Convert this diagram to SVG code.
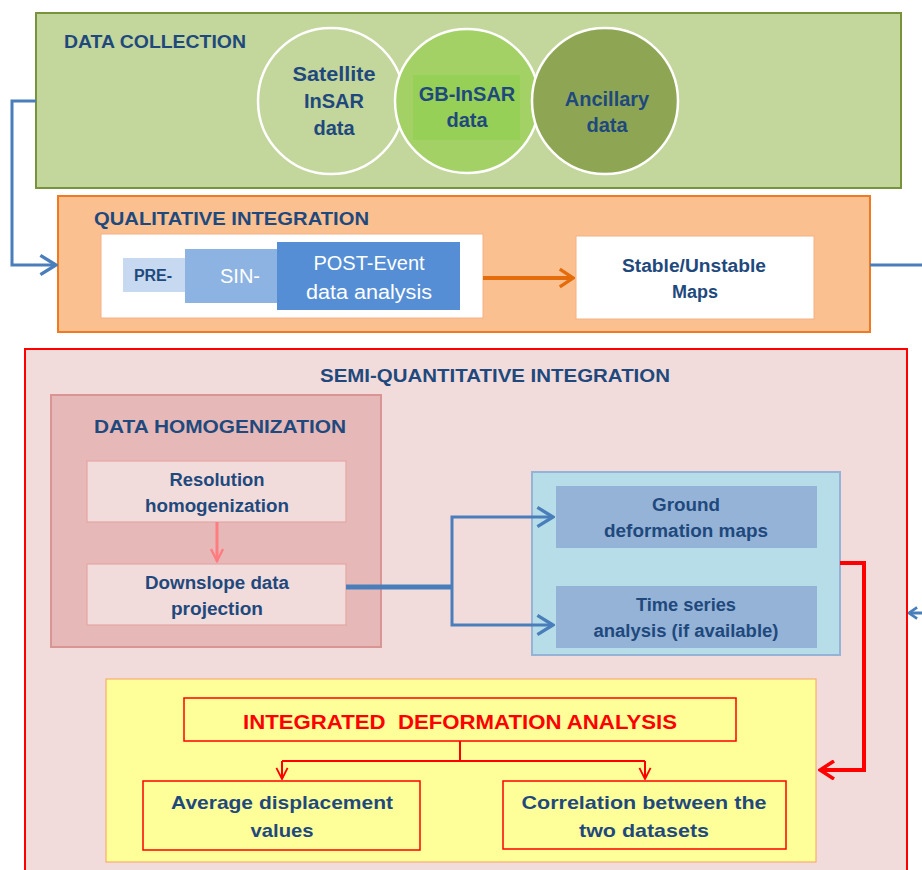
<svg xmlns="http://www.w3.org/2000/svg" width="922" height="870" viewBox="0 0 922 870">
<defs>
<style>
text{font-family:"Liberation Sans",Arial,sans-serif;font-weight:bold;fill:#1f497d;}
.t{font-size:19px;}
.c{text-anchor:middle;font-size:18px;}
.big{text-anchor:middle;font-size:20px;}
.w{fill:#ffffff;font-weight:normal;font-size:20px;text-anchor:middle;}
.blue{fill:none;stroke:#4a7ebb;stroke-width:3;}
.red{fill:none;stroke:#ff0000;}
</style>
<marker id="ab" viewBox="0 0 10 10" refX="9" refY="5" markerWidth="8" markerHeight="8" orient="auto" markerUnits="strokeWidth"><path d="M2.5,1 L9,5 L2.5,9" fill="none" stroke="#4a7ebb" stroke-width="1.4"/></marker>
<marker id="abs" viewBox="0 0 10 10" refX="9" refY="5" markerWidth="4.5" markerHeight="4.5" orient="auto" markerUnits="strokeWidth"><path d="M3,0.8 L9,5 L3,9.2" fill="none" stroke="#4a7ebb" stroke-width="2"/></marker>
<marker id="ao" viewBox="0 0 10 10" refX="9" refY="5" markerWidth="5.5" markerHeight="5.5" orient="auto" markerUnits="strokeWidth"><path d="M3,1 L9,5 L3,9" fill="none" stroke="#e46c0a" stroke-width="1.5"/></marker>
<marker id="as" viewBox="0 0 10 10" refX="9" refY="5" markerWidth="5" markerHeight="5" orient="auto" markerUnits="strokeWidth"><path d="M1,1 L9,5 L1,9" fill="none" stroke="#ff7c80" stroke-width="1.6"/></marker>
<marker id="ar" viewBox="0 0 10 10" refX="9" refY="5" markerWidth="5" markerHeight="5" orient="auto" markerUnits="strokeWidth"><path d="M2,0.5 L9,5 L2,9.5" fill="none" stroke="#ff0000" stroke-width="1.8"/></marker>
<marker id="ar2" viewBox="0 0 10 10" refX="9" refY="5" markerWidth="7" markerHeight="7" orient="auto" markerUnits="strokeWidth"><path d="M1,1 L9,5 L1,9" fill="none" stroke="#ff0000" stroke-width="1.3"/></marker>
</defs>

<g id="data-collection">
<rect x="36" y="13" width="865" height="175" fill="#c3d69b" stroke="#77933c" stroke-width="2"/>
<text class="t" x="64" y="48" textLength="182" lengthAdjust="spacingAndGlyphs">DATA COLLECTION</text>
</g>
<g id="satellite">
<circle cx="331" cy="101" r="73" fill="#c3d69b" stroke="#ffffff" stroke-width="2.5"/>
<text class="big" x="334" y="81" textLength="83" lengthAdjust="spacingAndGlyphs">Satellite</text>
<text class="big" x="334" y="108">InSAR</text>
<text class="big" x="334" y="135">data</text>
</g>
<g id="gb-insar">
<circle cx="467" cy="101" r="72" fill="#a4d165" stroke="#ffffff" stroke-width="2.5"/>
<rect x="413" y="75" width="107" height="65" fill="#92d050" opacity="0.7"/>
<text class="big" x="467" y="101">GB-InSAR</text>
<text class="big" x="467" y="127">data</text>
</g>
<g id="ancillary">
<circle cx="605" cy="101" r="73" fill="#8ea654" stroke="#ffffff" stroke-width="2.5"/>
<text class="big" x="607" y="106">Ancillary</text>
<text class="big" x="607" y="132">data</text>
</g>

<g id="qualitative">
<rect x="58" y="196" width="812" height="136" fill="#fac090" stroke="#f07a22" stroke-width="2"/>
<text class="t" x="94" y="225" textLength="275" lengthAdjust="spacingAndGlyphs">QUALITATIVE INTEGRATION</text>
</g>
<g id="event-analysis">
<rect x="101" y="234" width="382" height="84" fill="#ffffff" stroke="#f4b183" stroke-width="1"/>
<rect x="123" y="258" width="62" height="34" fill="#c6d9f1"/>
<rect x="185" y="249" width="93" height="54" fill="#8db3e2"/>
<rect x="277" y="242" width="183" height="68" fill="#558ed5"/>
<text x="153" y="281" style="font-size:16px;text-anchor:middle">PRE-</text>
<text class="w" x="240" y="283">SIN-</text>
<text class="w" x="369" y="270">POST-Event</text>
<text class="w" x="369" y="299" textLength="126" lengthAdjust="spacingAndGlyphs">data analysis</text>
</g>
<g id="stable-maps">
<rect x="576" y="236" width="238" height="83" fill="#ffffff" stroke="#f4b183" stroke-width="1"/>
<text class="c" x="694" y="272" textLength="144" lengthAdjust="spacingAndGlyphs">Stable/Unstable</text>
<text class="c" x="695" y="298">Maps</text>
</g>

<g id="semi-quantitative">
<rect x="25" y="349" width="882" height="530" fill="#f2dcdb" stroke="#ff0000" stroke-width="2"/>
<text class="t" x="495" y="382" style="text-anchor:middle" textLength="350" lengthAdjust="spacingAndGlyphs">SEMI-QUANTITATIVE INTEGRATION</text>
</g>
<g id="data-homogenization">
<rect x="51" y="395" width="330" height="252" fill="#e6b9b8" stroke="#d99594" stroke-width="2"/>
<text class="t" x="220" y="433" style="text-anchor:middle" textLength="252" lengthAdjust="spacingAndGlyphs">DATA HOMOGENIZATION</text>
</g>
<g id="resolution">
<rect x="87" y="461" width="259" height="61" fill="#f2dcdb" stroke="#e6a6a5" stroke-width="1.2"/>
<text class="c" x="217" y="486" textLength="95" lengthAdjust="spacingAndGlyphs">Resolution</text>
<text class="c" x="217" y="512" textLength="144" lengthAdjust="spacingAndGlyphs">homogenization</text>
</g>
<g id="downslope">
<rect x="87" y="564" width="259" height="61" fill="#f2dcdb" stroke="#e6a6a5" stroke-width="1.2"/>
<text class="c" x="217" y="589" textLength="144" lengthAdjust="spacingAndGlyphs">Downslope data</text>
<text class="c" x="217" y="615" textLength="92" lengthAdjust="spacingAndGlyphs">projection</text>
</g>
<g id="outputs">
<rect x="532" y="472" width="308" height="183" fill="#b7dee8" stroke="#95b3d7" stroke-width="2"/>
</g>
<g id="ground-deformation">
<rect x="556" y="486" width="261" height="62" fill="#95b3d7"/>
<text class="c" x="686" y="511" textLength="68" lengthAdjust="spacingAndGlyphs">Ground</text>
<text class="c" x="686" y="537" textLength="164" lengthAdjust="spacingAndGlyphs">deformation maps</text>
</g>
<g id="time-series">
<rect x="556" y="586" width="261" height="62" fill="#95b3d7"/>
<text class="c" x="686" y="611" textLength="100" lengthAdjust="spacingAndGlyphs">Time series</text>
<text class="c" x="686" y="637" textLength="185" lengthAdjust="spacingAndGlyphs">analysis (if available)</text>
</g>

<g id="integrated-box">
<rect x="106" y="679" width="710" height="183" fill="#ffff99" stroke="#f7a060" stroke-width="1"/>
</g>
<g id="integrated">
<rect x="184" y="698" width="552" height="43" fill="#ffff99" stroke="#ff0000" stroke-width="1.5"/>
<text x="460" y="729" style="font-size:21px;text-anchor:middle;fill:#ff0000" xml:space="preserve" textLength="434" lengthAdjust="spacingAndGlyphs">INTEGRATED  DEFORMATION ANALYSIS</text>
</g>
<g id="average">
<rect x="143" y="781" width="277" height="69" fill="#ffff99" stroke="#ff0000" stroke-width="1.5"/>
<text class="c" x="282" y="809" style="font-size:19px" textLength="222" lengthAdjust="spacingAndGlyphs">Average displacement</text>
<text class="c" x="282" y="837" style="font-size:19px" textLength="63" lengthAdjust="spacingAndGlyphs">values</text>
</g>
<g id="correlation">
<rect x="503" y="781" width="283" height="68" fill="#ffff99" stroke="#ff0000" stroke-width="1.5"/>
<text class="c" x="644" y="809" style="font-size:19px" textLength="245" lengthAdjust="spacingAndGlyphs">Correlation between the</text>
<text class="c" x="644" y="837" style="font-size:19px" textLength="130" lengthAdjust="spacingAndGlyphs">two datasets</text>
</g>

<g id="connectors">
<polyline class="blue" points="36,101 12,101 12,265 56,265" marker-end="url(#ab)"/>
<line x1="870" y1="265" x2="922" y2="265" class="blue"/>
<polyline class="blue" points="924,600 924,613 909,613" marker-end="url(#abs)"/>
<line x1="483" y1="278" x2="573" y2="278" stroke="#e46c0a" stroke-width="4" marker-end="url(#ao)"/>
<line x1="217" y1="522" x2="217" y2="561" stroke="#ff7c80" stroke-width="3" marker-end="url(#as)"/>
<polyline points="346,587 452,587" fill="none" stroke="#4a7ebb" stroke-width="5"/>
<polyline class="blue" points="452,587 452,517 553,517" marker-end="url(#ab)"/>
<polyline class="blue" points="452,587 452,625 553,625" marker-end="url(#ab)"/>
<polyline class="red" stroke-width="4" points="840,563 864,563 864,770 820,770" marker-end="url(#ar)"/>
<polyline class="red" stroke-width="2" points="460,741 460,761"/>
<polyline class="red" stroke-width="2" points="282,761 645,761"/>
<polyline class="red" stroke-width="2" points="282,761 282,779" marker-end="url(#ar2)"/>
<polyline class="red" stroke-width="2" points="645,761 645,779" marker-end="url(#ar2)"/>
</g>
</svg>
